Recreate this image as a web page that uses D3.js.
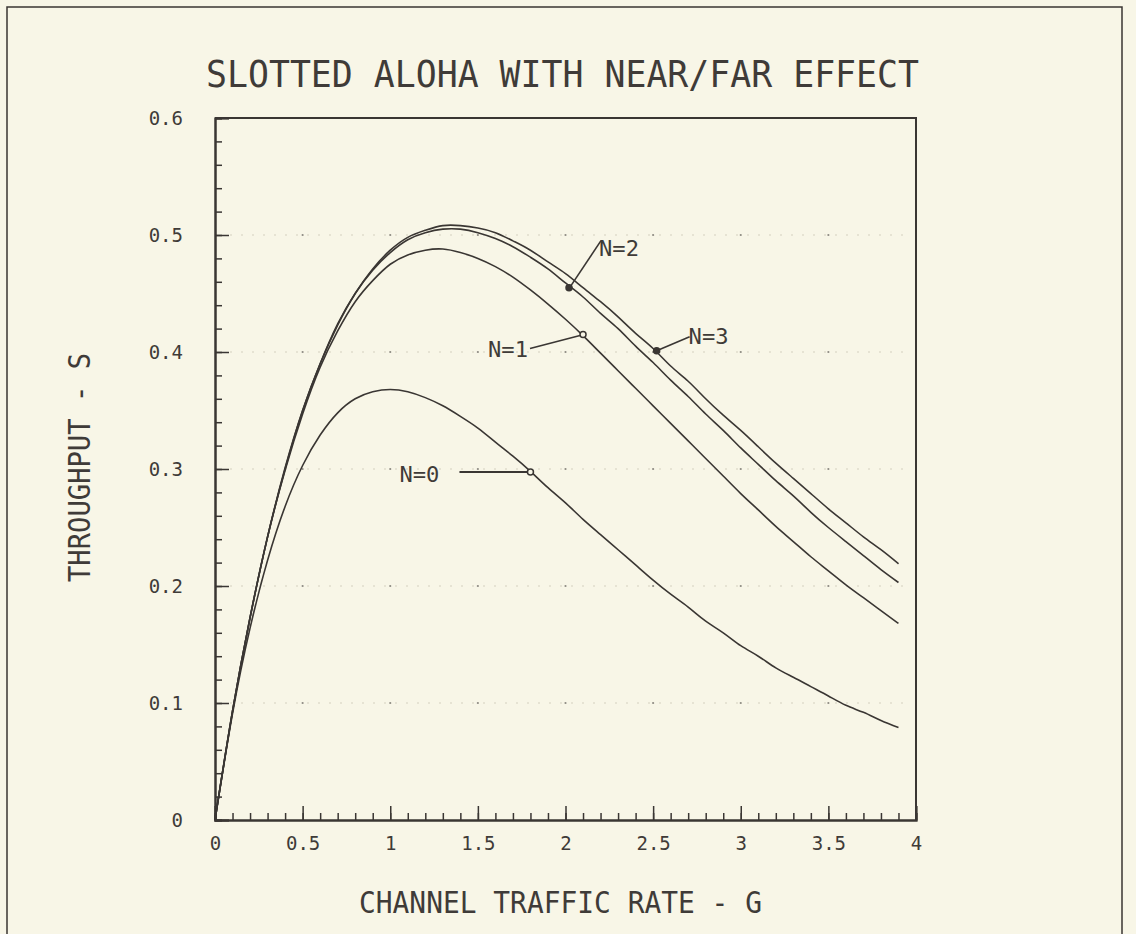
<!DOCTYPE html>
<html lang="en">
<head>
<meta charset="UTF-8">
<title>Slotted ALOHA with near/far effect</title>
<script src="https://d3js.org/d3.v7.min.js"></script>
<style>
  body { margin: 0; background: #f8f6e7; }
  svg { display: block; }
  text { font-family: "DejaVu Sans Mono", "Liberation Mono", monospace; fill: #3f3b38; }
</style>
</head>
<body>
<div id="chart"></div>
<script>
// channel traffic G (x) and throughput S (y)
var gVals = [0, 0.1, 0.2, 0.3, 0.4, 0.5, 0.6, 0.7, 0.8, 0.9,
             1.0, 1.1, 1.2, 1.3, 1.4, 1.5, 1.6, 1.7, 1.8, 1.9,
             2.0, 2.1, 2.2, 2.3, 2.4, 2.5, 2.6, 2.7, 2.8, 2.9,
             3.0, 3.1, 3.2, 3.3, 3.4, 3.5, 3.6, 3.7, 3.8, 3.9];

var sN0 = [0, 0.091, 0.164, 0.222, 0.268, 0.303, 0.329, 0.348, 0.360, 0.366,
           0.368, 0.366, 0.361, 0.354, 0.345, 0.335, 0.323, 0.311, 0.298, 0.284,
           0.271, 0.257, 0.244, 0.231, 0.218, 0.205, 0.193, 0.182, 0.170, 0.160,
           0.149, 0.140, 0.130, 0.122, 0.114, 0.106, 0.098, 0.092, 0.085, 0.079];

var sN1 = [0, 0.093, 0.173, 0.242, 0.299, 0.347, 0.387, 0.418, 0.443, 0.461,
           0.475, 0.483, 0.487, 0.488, 0.485, 0.480, 0.473, 0.464, 0.453, 0.441,
           0.428, 0.414, 0.399, 0.384, 0.369, 0.354, 0.339, 0.324, 0.309, 0.294,
           0.279, 0.265, 0.251, 0.238, 0.225, 0.213, 0.201, 0.190, 0.179, 0.168];

var sN2 = [0, 0.093, 0.173, 0.242, 0.300, 0.350, 0.390, 0.423, 0.450, 0.470,
           0.485, 0.496, 0.502, 0.505, 0.505, 0.502, 0.497, 0.490, 0.481, 0.471,
           0.459, 0.447, 0.433, 0.420, 0.405, 0.391, 0.376, 0.362, 0.347, 0.333,
           0.318, 0.304, 0.290, 0.277, 0.263, 0.250, 0.238, 0.226, 0.214, 0.203];

var sN3 = [0, 0.093, 0.173, 0.242, 0.301, 0.350, 0.390, 0.424, 0.450, 0.471,
           0.487, 0.498, 0.504, 0.508, 0.508, 0.506, 0.502, 0.495, 0.487, 0.477,
           0.467, 0.455, 0.443, 0.430, 0.416, 0.403, 0.388, 0.375, 0.360, 0.346,
           0.333, 0.319, 0.305, 0.292, 0.279, 0.266, 0.254, 0.242, 0.231, 0.219];

var seriesNames = ["N=0", "N=1", "N=2", "N=3"];

// labelled points on each curve
var markG = [1.8, 2.1, 2.02, 2.52];
var markS = [0.2975, 0.415, 0.455, 0.401];
var markFilled = [false, false, true, true];

var xTicks = [0, 0.5, 1, 1.5, 2, 2.5, 3, 3.5, 4];
var xTickLabels = ["0", "0.5", "1", "1.5", "2", "2.5", "3", "3.5", "4"];
var yTicks = [0, 0.1, 0.2, 0.3, 0.4, 0.5, 0.6];
var yTickLabels = ["0", "0.1", "0.2", "0.3", "0.4", "0.5", "0.6"];

var W = 1136, H = 934;
var ink = "#3a3633";

var svg = d3.select("#chart").append("svg")
    .attr("width", W).attr("height", H);

svg.append("rect").attr("width", W).attr("height", H).attr("fill", "#f8f6e7");

// outer page frame
svg.append("path")
    .attr("d", "M7,950 L7,7 L1122,7 L1122,950")
    .attr("fill", "none").attr("stroke", ink).attr("stroke-width", 1.5);

var x = d3.scaleLinear().domain([0, 4]).range([215, 916]);
var y = d3.scaleLinear().domain([0, 0.6]).range([820, 118]);

// faint dotted grid rows
var gridRows = yTicks.slice(1, 6);
svg.append("g").selectAll("line").data(gridRows).enter().append("line")
    .attr("x1", x(0) + 15).attr("x2", x(4) - 10)
    .attr("y1", function(d) { return y(d); }).attr("y2", function(d) { return y(d); })
    .attr("stroke", "#d3d0c0").attr("stroke-width", 1.2)
    .attr("stroke-dasharray", "2,9");
var gridDots = [];
gridRows.forEach(function(r) {
    xTicks.slice(1, 8).forEach(function(c) { gridDots.push([c, r]); });
});
svg.append("g").selectAll("circle").data(gridDots).enter().append("circle")
    .attr("cx", function(d) { return x(d[0]); })
    .attr("cy", function(d) { return y(d[1]); })
    .attr("r", 1.1).attr("fill", "#8d8a82");

// axes: ticks point inward
var xMinor = d3.range(0, 41).map(function(i) { return i / 10; });
var yMinor = d3.range(0, 31).map(function(i) { return i / 50; });

svg.append("g").attr("transform", "translate(0,820)")
    .call(d3.axisBottom(x).tickValues(xMinor).tickSize(-7).tickFormat(""));
svg.append("g").attr("transform", "translate(0,820)")
    .call(d3.axisBottom(x).tickValues(xTicks).tickSize(-14).tickPadding(17)
        .tickFormat(function(d, i) { return xTickLabels[i]; }));
svg.append("g").attr("transform", "translate(215,0)")
    .call(d3.axisLeft(y).tickValues(yMinor).tickSize(-7).tickFormat(""));
svg.append("g").attr("transform", "translate(215,0)")
    .call(d3.axisLeft(y).tickValues(yTicks).tickSize(-14).tickPadding(32)
        .tickFormat(function(d, i) { return yTickLabels[i]; }));

svg.selectAll(".domain").attr("stroke", ink).attr("stroke-width", 2);
svg.selectAll(".tick line").attr("stroke", ink).attr("stroke-width", 1.5);
svg.selectAll(".tick text").style("font-size", "19px")
    .style("font-family", "'DejaVu Sans Mono', monospace").attr("fill", "#3f3b38");

// top and right edges of the plot box
svg.append("path")
    .attr("d", "M" + x(0) + "," + y(0.6) + " L" + x(4) + "," + y(0.6) + " L" + x(4) + "," + y(0))
    .attr("fill", "none").attr("stroke", ink).attr("stroke-width", 2);

// curves
var allSeries = [sN0, sN1, sN2, sN3];
var line = d3.line()
    .x(function(d, i) { return x(gVals[i]); })
    .y(function(d) { return y(d); })
    .curve(d3.curveNatural);

svg.append("g").selectAll("path").data(allSeries).enter().append("path")
    .attr("d", line)
    .attr("fill", "none").attr("stroke", ink).attr("stroke-width", 1.6);

// labels with leaders (pixel offsets from the marker)
var labelLayout = [
    {tx: -131, ty: 2, lx1: -71, ly1: 0, lx2: -3, ly2: 0},
    {tx: -95, ty: 15, lx1: -53, ly1: 14, lx2: -3, ly2: 1},
    {tx: 30, ty: -40, lx1: 2, ly1: -2, lx2: 32, ly2: -47},
    {tx: 32, ty: -15, lx1: 0, ly1: 0, lx2: 33, ly2: -14}
];

var labels = svg.append("g");
seriesNames.forEach(function(name, i) {
    var px = x(markG[i]), py = y(markS[i]), L = labelLayout[i];
    labels.append("line")
        .attr("x1", px + L.lx1).attr("y1", py + L.ly1)
        .attr("x2", px + L.lx2).attr("y2", py + L.ly2)
        .attr("stroke", ink).attr("stroke-width", i === 0 ? 2 : 1.6);
    labels.append("circle")
        .attr("cx", px).attr("cy", py).attr("r", 3)
        .attr("fill", markFilled[i] ? ink : "#f8f6e7")
        .attr("stroke", ink).attr("stroke-width", 1.5);
    labels.append("text")
        .attr("x", px + L.tx).attr("y", py + L.ty)
        .attr("dy", "0.36em")
        .attr("textLength", 40).attr("lengthAdjust", "spacingAndGlyphs")
        .style("font-size", "22px")
        .text(name);
});

// title and axis titles
svg.append("text")
    .attr("x", 206).attr("y", 87)
    .attr("textLength", 713).attr("lengthAdjust", "spacingAndGlyphs")
    .style("font-size", "38px")
    .text("SLOTTED ALOHA WITH NEAR/FAR EFFECT");

svg.append("text")
    .attr("x", 359).attr("y", 913)
    .attr("textLength", 403).attr("lengthAdjust", "spacingAndGlyphs")
    .style("font-size", "30px")
    .text("CHANNEL TRAFFIC RATE - G");

svg.append("text")
    .attr("transform", "translate(90,582) rotate(-90)")
    .attr("textLength", 229).attr("lengthAdjust", "spacingAndGlyphs")
    .style("font-size", "30px")
    .text("THROUGHPUT - S");
</script>
</body>
</html>
